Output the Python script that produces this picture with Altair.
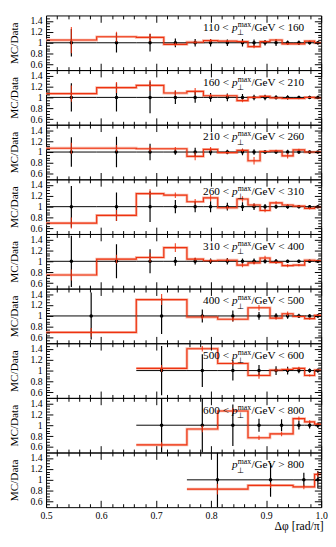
import altair as alt
import pandas as pd

FONT = "Liberation Serif"
RED = "#EE3311"
HALO = "#F8B8A8"
W, H = 282, 56

# axis tick values
X_MAJOR = [0.5, 0.6, 0.7, 0.8, 0.9, 1.0]
X_MINOR = [0.52, 0.54, 0.56, 0.58, 0.62, 0.64, 0.66, 0.68, 0.72, 0.74, 0.76, 0.78,
           0.82, 0.84, 0.86, 0.88, 0.92, 0.94, 0.96, 0.98]
Y_MAJOR = [0.6, 0.8, 1.0, 1.2, 1.4]
Y_MINOR = [0.55, 0.65, 0.7, 0.75, 0.85, 0.9, 0.95, 1.05, 1.1, 1.15, 1.25, 1.3, 1.35, 1.45]

# pT-bin labels
LOWS = ["110", "160", "210", "260", "310", "400", "500", "600", ""]
HIGHS = ["160", "210", "260", "310", "400", "500", "600", "800", "800"]

# bin edges (delta phi in rad/pi)
E_FULL = [0.5, 0.592, 0.664, 0.714, 0.756, 0.786, 0.812, 0.847, 0.867, 0.889, 0.907,
          0.929, 0.949, 0.970, 0.988, 1.0]
E6 = [0.5, 0.664, 0.756, 0.812, 0.867, 0.907, 0.929, 0.949, 0.970, 0.988, 1.0]
E7 = [0.664, 0.756, 0.812, 0.867, 0.907, 0.929, 0.949, 0.970, 0.988, 1.0]
E8 = [0.664, 0.756, 0.812, 0.867, 0.907, 0.949, 0.970, 0.988, 1.0]
E9 = [0.756, 0.867, 0.949, 0.988, 1.0]

# MC/Data ratios
MC1 = [1.05, 1.11, 1.10, 0.97, 1.01, 1.04, 1.03, 1.02, 0.93, 1.02, 1.05, 0.98, 0.98, 1.03, 1.00]
MC2 = [1.07, 1.18, 1.22, 1.08, 1.11, 1.03, 1.03, 0.94, 1.00, 1.02, 0.99, 0.98, 0.98, 1.00, 0.99]
MC3 = [1.07, 1.07, 1.06, 1.06, 0.92, 1.05, 0.99, 1.03, 0.84, 1.01, 1.02, 0.93, 1.04, 1.00, 1.00]
MC4 = [0.70, 0.84, 1.24, 1.21, 1.09, 1.16, 0.98, 1.14, 1.03, 0.93, 1.07, 1.03, 1.01, 0.97, 0.99]
MC5 = [0.75, 1.04, 1.07, 1.25, 1.04, 1.01, 1.02, 0.93, 0.97, 1.06, 0.98, 0.92, 0.93, 1.02, 1.01]
MC6 = [0.70, 1.30, 0.98, 0.94, 1.15, 0.96, 1.04, 0.99, 0.95, 1.01]
MC7 = [1.04, 1.40, 1.13, 0.91, 1.01, 1.02, 1.04, 0.91, 1.01]
MC8 = [0.64, 0.93, 1.26, 0.77, 0.84, 1.12, 1.06, 1.02]
MC9 = [0.83, 0.90, 0.87, 1.10]

# data relative uncertainties
DE1 = [0.25, 0.18, 0.16, 0.08, 0.07, 0.07, 0.06, 0.07, 0.06, 0.05, 0.06, 0.04, 0.04, 0.03, 0.03]
DE2 = [0.26, 0.26, 0.29, 0.12, 0.10, 0.08, 0.07, 0.06, 0.05, 0.05, 0.04, 0.04, 0.03, 0.03, 0.03]
DE3 = [0.27, 0.28, 0.15, 0.05, 0.08, 0.06, 0.04, 0.06, 0.05, 0.03, 0.03, 0.04, 0.03, 0.03, 0.02]
DE4 = [0.38, 0.26, 0.28, 0.12, 0.10, 0.10, 0.07, 0.08, 0.06, 0.05, 0.04, 0.04, 0.03, 0.03, 0.02]
DE5 = [0.47, 0.31, 0.22, 0.08, 0.06, 0.05, 0.06, 0.05, 0.05, 0.04, 0.04, 0.03, 0.03, 0.02, 0.02]
DE6 = [0.43, 0.33, 0.12, 0.10, 0.07, 0.05, 0.05, 0.04, 0.03, 0.03]
DE7 = [0.45, 0.30, 0.18, 0.10, 0.08, 0.07, 0.05, 0.04, 0.04]
DE8 = [0.60, 0.50, 0.38, 0.12, 0.11, 0.08, 0.06, 0.05]
DE9 = [0.50, 0.31, 0.13, 0.16]

# MC uncertainties
ME1 = [0.24, 0.09, 0.07, 0.03, 0.03, 0.03, 0.02, 0.02, 0.03, 0.02, 0.02, 0.02, 0.01, 0.01, 0.01]
ME2 = [0.15, 0.10, 0.10, 0.05, 0.06, 0.03, 0.03, 0.03, 0.02, 0.02, 0.02, 0.02, 0.01, 0.01, 0.01]
ME3 = [0.10, 0.06, 0.05, 0.03, 0.07, 0.04, 0.02, 0.03, 0.07, 0.02, 0.02, 0.05, 0.02, 0.01, 0.01]
ME4 = [0.10, 0.10, 0.08, 0.05, 0.05, 0.06, 0.03, 0.05, 0.03, 0.03, 0.03, 0.02, 0.02, 0.02, 0.01]
ME5 = [0.10, 0.08, 0.08, 0.08, 0.03, 0.03, 0.03, 0.04, 0.03, 0.04, 0.02, 0.03, 0.02, 0.01, 0.01]
ME6 = [0.08, 0.10, 0.04, 0.04, 0.05, 0.03, 0.04, 0.02, 0.02, 0.01]
ME7 = [0.06, 0.05, 0.04, 0.06, 0.03, 0.03, 0.03, 0.02, 0.02]
ME8 = [0.05, 0.06, 0.05, 0.04, 0.04, 0.04, 0.03, 0.02]
ME9 = [0.10, 0.05, 0.04, 0.05]

PANELS = [
    (E_FULL, MC1, DE1, ME1), (E_FULL, MC2, DE2, ME2), (E_FULL, MC3, DE3, ME3),
    (E_FULL, MC4, DE4, ME4), (E_FULL, MC5, DE5, ME5), (E6, MC6, DE6, ME6),
    (E7, MC7, DE7, ME7), (E8, MC8, DE8, ME8), (E9, MC9, DE9, ME9),
]


def tick_axis(orient, offset, values, size):
    return alt.Axis(orient=orient, offset=offset, values=values, tickSize=size,
                    tickColor="black", tickWidth=1, labels=False, domain=False,
                    grid=False, title=None, zindex=1)


def text_layer(txt, x, y, size, style="normal"):
    return alt.Chart(pd.DataFrame({"t": [txt]})).mark_text(
        align="left", baseline="alphabetic", font=FONT, fontSize=size,
        fontStyle=style, color="black"
    ).encode(x=alt.value(x), y=alt.value(y), text="t:N")


def panel(idx):
    edges, mc, derr, mcerr = PANELS[idx]
    last = idx == len(PANELS) - 1
    lo = edges[:-1]
    hi = edges[1:]
    mid = [(a + b) / 2 for a, b in zip(lo, hi)]
    bins = pd.DataFrame({
        "lo": lo, "hi": hi, "mid": mid, "one": [1.0] * len(mc),
        "dlo": [1 - e for e in derr], "dhi": [1 + e for e in derr],
        "mlo": [m - e for m, e in zip(mc, mcerr)], "mhi": [m + e for m, e in zip(mc, mcerr)],
    })
    step = pd.DataFrame({"x": edges, "y": mc + [mc[-1]]})
    xs = alt.Scale(domain=[0.5, 1.0], nice=False, zero=False)
    ys = alt.Scale(domain=[0.5, 1.5], nice=False, zero=False)

    ylab = alt.Axis(orient="left", values=Y_MAJOR, format="~g", ticks=False, domain=False,
                    grid=False, labelFont=FONT, labelFontSize=10, labelPadding=4,
                    labelColor="black", title="MC/Data", titleFont=FONT, titleFontSize=11.5,
                    titleFontWeight="normal", titleColor="black", titleAngle=270,
                    titleX=-32.5, titleY=H / 2, titleAlign="center", titleBaseline="middle")
    if last:
        xlab = alt.Axis(orient="bottom", values=X_MAJOR, format=".1f", ticks=False,
                        domain=False, grid=False, labelFlush=False, labelFont=FONT,
                        labelFontSize=10, labelPadding=4, labelColor="black",
                        title="Δφ [rad/π]", titleFont=FONT, titleFontSize=12,
                        titleFontWeight="normal", titleColor="black", titleX=W + 2,
                        titleAlign="right", titlePadding=0)
    else:
        xlab = None

    halo = alt.Chart(step).mark_line(interpolate="step-after", color=HALO, strokeWidth=2.8,
                                     clip=True).encode(
        x=alt.X("x:Q", scale=xs, axis=xlab),
        y=alt.Y("y:Q", scale=ys, axis=ylab))
    xerr = alt.Chart(bins).mark_rule(color="black", strokeWidth=1, clip=True).encode(
        x=alt.X("lo:Q", scale=xs, axis=tick_axis("top", -H, X_MAJOR, 7)),
        x2="hi:Q",
        y=alt.Y("one:Q", scale=ys, axis=tick_axis("right", -W, Y_MAJOR, 7)))
    yerr = alt.Chart(bins).mark_rule(color="black", strokeWidth=1.2, clip=True).encode(
        x=alt.X("mid:Q", scale=xs, axis=tick_axis("top", -H, X_MINOR, 3.5)),
        y=alt.Y("dlo:Q", scale=ys, axis=tick_axis("right", -W, Y_MINOR, 3.5)),
        y2="dhi:Q")
    pts = alt.Chart(bins).mark_circle(color="black", size=13, opacity=1, clip=True).encode(
        x=alt.X("mid:Q", scale=xs, axis=tick_axis("bottom", -H, X_MAJOR, 7)),
        y=alt.Y("one:Q", scale=ys, axis=tick_axis("left", -W, Y_MAJOR, 7)))
    line = alt.Chart(step).mark_line(interpolate="step-after", color=RED, strokeWidth=1.2,
                                     clip=True).encode(
        x=alt.X("x:Q", scale=xs, axis=tick_axis("bottom", -H, X_MINOR, 3.5)),
        y=alt.Y("y:Q", scale=ys, axis=tick_axis("left", -W, Y_MINOR, 3.5)))
    merr = alt.Chart(bins).mark_rule(color=RED, strokeWidth=1.2, opacity=0.85, clip=True).encode(
        x=alt.X("mid:Q", scale=xs, axis=None),
        y=alt.Y("mlo:Q", scale=ys, axis=None),
        y2="mhi:Q")

    layers = [halo, xerr, yerr, pts, line, merr]
    if LOWS[idx]:
        layers.append(text_layer(LOWS[idx] + " <", 161, 16, 11.5))
        rel = "/GeV < " + HIGHS[idx]
    else:
        rel = "/GeV > " + HIGHS[idx]
    layers.append(text_layer("p", 190.5, 16, 11.5, "italic"))
    layers.append(text_layer("max", 196.5, 12, 8))
    layers.append(text_layer("⊥", 195.5, 20.5, 8))
    layers.append(text_layer(rel, 210.5, 16, 11.5))

    return alt.layer(*layers).resolve_axis(x="independent", y="independent").properties(
        width=W, height=H)


chart = alt.vconcat(*[panel(i) for i in range(len(PANELS))], spacing=0, bounds="flush").properties(
    padding={"left": 0, "top": 0, "right": 0, "bottom": 0}
).configure_view(stroke="black", strokeWidth=1)

chart.save("out.html", embed_options={"renderer": "svg", "actions": False})
